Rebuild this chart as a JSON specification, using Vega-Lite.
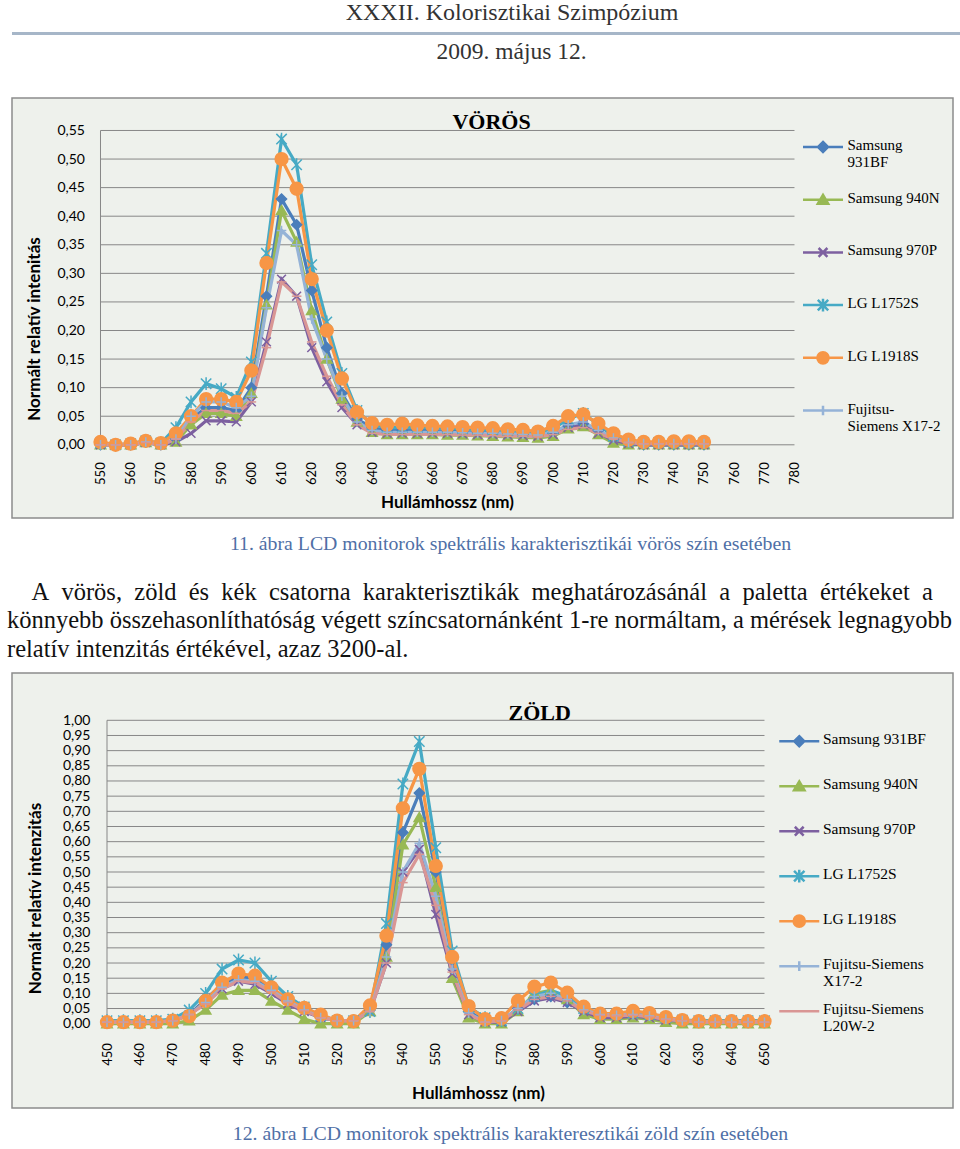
{
"$schema":"https://vega.github.io/schema/vega-lite/v6.json",
"background":"white",
"padding":{"left":6,"top":0,"right":0,"bottom":0},
"spacing":0,
"config":{"font":"Liberation Serif","view":{"stroke":null},"title":{"font":"Liberation Serif","fontWeight":"normal","color":"#222222"},
  "axis":{"labelOverlap":false,"labelFlush":false,"grid":false,"ticks":false,"domain":false}},
"datasets":{
"voros":[
{"wl":550,"Samsung 931BF":0,"Samsung 940N":0,"Samsung 970P":0,"LG L1752S":0.003,"LG L1918S":0.005,"Fujitsu-Siemens X17-2":0,"Fujitsu-Siemens L20W-2":0},
{"wl":555,"Samsung 931BF":0,"Samsung 940N":0,"Samsung 970P":0,"LG L1752S":0,"LG L1918S":0,"Fujitsu-Siemens X17-2":0,"Fujitsu-Siemens L20W-2":0},
{"wl":560,"Samsung 931BF":0,"Samsung 940N":0,"Samsung 970P":0,"LG L1752S":0.002,"LG L1918S":0.002,"Fujitsu-Siemens X17-2":0,"Fujitsu-Siemens L20W-2":0},
{"wl":565,"Samsung 931BF":0.005,"Samsung 940N":0.004,"Samsung 970P":0.004,"LG L1752S":0.007,"LG L1918S":0.007,"Fujitsu-Siemens X17-2":0.005,"Fujitsu-Siemens L20W-2":0.004},
{"wl":570,"Samsung 931BF":0,"Samsung 940N":0,"Samsung 970P":0,"LG L1752S":0.003,"LG L1918S":0.003,"Fujitsu-Siemens X17-2":0,"Fujitsu-Siemens L20W-2":0},
{"wl":575,"Samsung 931BF":0.01,"Samsung 940N":0.005,"Samsung 970P":0.005,"LG L1752S":0.03,"LG L1918S":0.02,"Fujitsu-Siemens X17-2":0.01,"Fujitsu-Siemens L20W-2":0.01},
{"wl":580,"Samsung 931BF":0.045,"Samsung 940N":0.035,"Samsung 970P":0.02,"LG L1752S":0.075,"LG L1918S":0.05,"Fujitsu-Siemens X17-2":0.05,"Fujitsu-Siemens L20W-2":0.04},
{"wl":585,"Samsung 931BF":0.065,"Samsung 940N":0.055,"Samsung 970P":0.042,"LG L1752S":0.107,"LG L1918S":0.08,"Fujitsu-Siemens X17-2":0.075,"Fujitsu-Siemens L20W-2":0.06},
{"wl":590,"Samsung 931BF":0.065,"Samsung 940N":0.055,"Samsung 970P":0.042,"LG L1752S":0.098,"LG L1918S":0.08,"Fujitsu-Siemens X17-2":0.075,"Fujitsu-Siemens L20W-2":0.06},
{"wl":595,"Samsung 931BF":0.06,"Samsung 940N":0.05,"Samsung 970P":0.04,"LG L1752S":0.083,"LG L1918S":0.075,"Fujitsu-Siemens X17-2":0.065,"Fujitsu-Siemens L20W-2":0.055},
{"wl":600,"Samsung 931BF":0.1,"Samsung 940N":0.09,"Samsung 970P":0.075,"LG L1752S":0.145,"LG L1918S":0.13,"Fujitsu-Siemens X17-2":0.085,"Fujitsu-Siemens L20W-2":0.075},
{"wl":605,"Samsung 931BF":0.26,"Samsung 940N":0.245,"Samsung 970P":0.18,"LG L1752S":0.335,"LG L1918S":0.318,"Fujitsu-Siemens X17-2":0.24,"Fujitsu-Siemens L20W-2":0.17},
{"wl":610,"Samsung 931BF":0.43,"Samsung 940N":0.41,"Samsung 970P":0.29,"LG L1752S":0.535,"LG L1918S":0.5,"Fujitsu-Siemens X17-2":0.375,"Fujitsu-Siemens L20W-2":0.285},
{"wl":615,"Samsung 931BF":0.385,"Samsung 940N":0.355,"Samsung 970P":0.26,"LG L1752S":0.49,"LG L1918S":0.448,"Fujitsu-Siemens X17-2":0.35,"Fujitsu-Siemens L20W-2":0.26},
{"wl":620,"Samsung 931BF":0.27,"Samsung 940N":0.235,"Samsung 970P":0.17,"LG L1752S":0.315,"LG L1918S":0.29,"Fujitsu-Siemens X17-2":0.22,"Fujitsu-Siemens L20W-2":0.18},
{"wl":625,"Samsung 931BF":0.17,"Samsung 940N":0.15,"Samsung 970P":0.11,"LG L1752S":0.215,"LG L1918S":0.2,"Fujitsu-Siemens X17-2":0.15,"Fujitsu-Siemens L20W-2":0.12},
{"wl":630,"Samsung 931BF":0.09,"Samsung 940N":0.08,"Samsung 970P":0.065,"LG L1752S":0.125,"LG L1918S":0.116,"Fujitsu-Siemens X17-2":0.085,"Fujitsu-Siemens L20W-2":0.07},
{"wl":635,"Samsung 931BF":0.045,"Samsung 940N":0.04,"Samsung 970P":0.035,"LG L1752S":0.06,"LG L1918S":0.057,"Fujitsu-Siemens X17-2":0.04,"Fujitsu-Siemens L20W-2":0.035},
{"wl":640,"Samsung 931BF":0.03,"Samsung 940N":0.022,"Samsung 970P":0.022,"LG L1752S":0.035,"LG L1918S":0.038,"Fujitsu-Siemens X17-2":0.025,"Fujitsu-Siemens L20W-2":0.02},
{"wl":645,"Samsung 931BF":0.025,"Samsung 940N":0.018,"Samsung 970P":0.02,"LG L1752S":0.03,"LG L1918S":0.035,"Fujitsu-Siemens X17-2":0.022,"Fujitsu-Siemens L20W-2":0.018},
{"wl":650,"Samsung 931BF":0.025,"Samsung 940N":0.018,"Samsung 970P":0.02,"LG L1752S":0.03,"LG L1918S":0.037,"Fujitsu-Siemens X17-2":0.022,"Fujitsu-Siemens L20W-2":0.018},
{"wl":655,"Samsung 931BF":0.025,"Samsung 940N":0.018,"Samsung 970P":0.02,"LG L1752S":0.03,"LG L1918S":0.034,"Fujitsu-Siemens X17-2":0.022,"Fujitsu-Siemens L20W-2":0.018},
{"wl":660,"Samsung 931BF":0.025,"Samsung 940N":0.018,"Samsung 970P":0.02,"LG L1752S":0.03,"LG L1918S":0.033,"Fujitsu-Siemens X17-2":0.022,"Fujitsu-Siemens L20W-2":0.018},
{"wl":665,"Samsung 931BF":0.024,"Samsung 940N":0.017,"Samsung 970P":0.02,"LG L1752S":0.029,"LG L1918S":0.032,"Fujitsu-Siemens X17-2":0.022,"Fujitsu-Siemens L20W-2":0.018},
{"wl":670,"Samsung 931BF":0.023,"Samsung 940N":0.017,"Samsung 970P":0.019,"LG L1752S":0.028,"LG L1918S":0.031,"Fujitsu-Siemens X17-2":0.021,"Fujitsu-Siemens L20W-2":0.017},
{"wl":675,"Samsung 931BF":0.022,"Samsung 940N":0.016,"Samsung 970P":0.018,"LG L1752S":0.027,"LG L1918S":0.03,"Fujitsu-Siemens X17-2":0.02,"Fujitsu-Siemens L20W-2":0.017},
{"wl":680,"Samsung 931BF":0.021,"Samsung 940N":0.015,"Samsung 970P":0.018,"LG L1752S":0.026,"LG L1918S":0.029,"Fujitsu-Siemens X17-2":0.02,"Fujitsu-Siemens L20W-2":0.016},
{"wl":685,"Samsung 931BF":0.02,"Samsung 940N":0.014,"Samsung 970P":0.017,"LG L1752S":0.025,"LG L1918S":0.027,"Fujitsu-Siemens X17-2":0.019,"Fujitsu-Siemens L20W-2":0.015},
{"wl":690,"Samsung 931BF":0.018,"Samsung 940N":0.013,"Samsung 970P":0.016,"LG L1752S":0.023,"LG L1918S":0.026,"Fujitsu-Siemens X17-2":0.018,"Fujitsu-Siemens L20W-2":0.015},
{"wl":695,"Samsung 931BF":0.017,"Samsung 940N":0.012,"Samsung 970P":0.015,"LG L1752S":0.022,"LG L1918S":0.023,"Fujitsu-Siemens X17-2":0.017,"Fujitsu-Siemens L20W-2":0.014},
{"wl":700,"Samsung 931BF":0.02,"Samsung 940N":0.015,"Samsung 970P":0.018,"LG L1752S":0.028,"LG L1918S":0.033,"Fujitsu-Siemens X17-2":0.022,"Fujitsu-Siemens L20W-2":0.018},
{"wl":705,"Samsung 931BF":0.033,"Samsung 940N":0.028,"Samsung 970P":0.03,"LG L1752S":0.045,"LG L1918S":0.05,"Fujitsu-Siemens X17-2":0.035,"Fujitsu-Siemens L20W-2":0.027},
{"wl":710,"Samsung 931BF":0.037,"Samsung 940N":0.032,"Samsung 970P":0.035,"LG L1752S":0.055,"LG L1918S":0.053,"Fujitsu-Siemens X17-2":0.04,"Fujitsu-Siemens L20W-2":0.03},
{"wl":715,"Samsung 931BF":0.025,"Samsung 940N":0.018,"Samsung 970P":0.02,"LG L1752S":0.035,"LG L1918S":0.037,"Fujitsu-Siemens X17-2":0.025,"Fujitsu-Siemens L20W-2":0.02},
{"wl":720,"Samsung 931BF":0.01,"Samsung 940N":0.003,"Samsung 970P":0.008,"LG L1752S":0.015,"LG L1918S":0.02,"Fujitsu-Siemens X17-2":0.012,"Fujitsu-Siemens L20W-2":0.01},
{"wl":725,"Samsung 931BF":0.003,"Samsung 940N":0,"Samsung 970P":0.002,"LG L1752S":0.006,"LG L1918S":0.009,"Fujitsu-Siemens X17-2":0.004,"Fujitsu-Siemens L20W-2":0.004},
{"wl":730,"Samsung 931BF":0,"Samsung 940N":0,"Samsung 970P":0,"LG L1752S":0.004,"LG L1918S":0.005,"Fujitsu-Siemens X17-2":0.002,"Fujitsu-Siemens L20W-2":0.002},
{"wl":735,"Samsung 931BF":0,"Samsung 940N":0,"Samsung 970P":0,"LG L1752S":0.004,"LG L1918S":0.005,"Fujitsu-Siemens X17-2":0.002,"Fujitsu-Siemens L20W-2":0.002},
{"wl":740,"Samsung 931BF":0,"Samsung 940N":0,"Samsung 970P":0,"LG L1752S":0.004,"LG L1918S":0.006,"Fujitsu-Siemens X17-2":0.002,"Fujitsu-Siemens L20W-2":0.002},
{"wl":745,"Samsung 931BF":0,"Samsung 940N":0,"Samsung 970P":0,"LG L1752S":0.004,"LG L1918S":0.006,"Fujitsu-Siemens X17-2":0.002,"Fujitsu-Siemens L20W-2":0.002},
{"wl":750,"Samsung 931BF":0,"Samsung 940N":0,"Samsung 970P":0,"LG L1752S":0.004,"LG L1918S":0.005,"Fujitsu-Siemens X17-2":0.002,"Fujitsu-Siemens L20W-2":0.002}
],
"zold":[
{"wl":450,"Samsung 931BF":0.005,"Samsung 940N":0,"Samsung 970P":0.005,"LG L1752S":0.01,"LG L1918S":0.005,"Fujitsu-Siemens X17-2":0.005,"Fujitsu-Siemens L20W-2":0.005},
{"wl":455,"Samsung 931BF":0.005,"Samsung 940N":0,"Samsung 970P":0.005,"LG L1752S":0.01,"LG L1918S":0.005,"Fujitsu-Siemens X17-2":0.005,"Fujitsu-Siemens L20W-2":0.005},
{"wl":460,"Samsung 931BF":0.005,"Samsung 940N":0,"Samsung 970P":0.005,"LG L1752S":0.01,"LG L1918S":0.005,"Fujitsu-Siemens X17-2":0.005,"Fujitsu-Siemens L20W-2":0.005},
{"wl":465,"Samsung 931BF":0.005,"Samsung 940N":0,"Samsung 970P":0.005,"LG L1752S":0.01,"LG L1918S":0.005,"Fujitsu-Siemens X17-2":0.005,"Fujitsu-Siemens L20W-2":0.005},
{"wl":470,"Samsung 931BF":0.01,"Samsung 940N":0,"Samsung 970P":0.01,"LG L1752S":0.015,"LG L1918S":0.01,"Fujitsu-Siemens X17-2":0.01,"Fujitsu-Siemens L20W-2":0.01},
{"wl":475,"Samsung 931BF":0.03,"Samsung 940N":0.01,"Samsung 970P":0.03,"LG L1752S":0.045,"LG L1918S":0.025,"Fujitsu-Siemens X17-2":0.03,"Fujitsu-Siemens L20W-2":0.03},
{"wl":480,"Samsung 931BF":0.08,"Samsung 940N":0.045,"Samsung 970P":0.07,"LG L1752S":0.1,"LG L1918S":0.075,"Fujitsu-Siemens X17-2":0.07,"Fujitsu-Siemens L20W-2":0.065},
{"wl":485,"Samsung 931BF":0.13,"Samsung 940N":0.095,"Samsung 970P":0.115,"LG L1752S":0.18,"LG L1918S":0.135,"Fujitsu-Siemens X17-2":0.12,"Fujitsu-Siemens L20W-2":0.115},
{"wl":490,"Samsung 931BF":0.155,"Samsung 940N":0.11,"Samsung 970P":0.14,"LG L1752S":0.21,"LG L1918S":0.165,"Fujitsu-Siemens X17-2":0.145,"Fujitsu-Siemens L20W-2":0.14},
{"wl":495,"Samsung 931BF":0.15,"Samsung 940N":0.11,"Samsung 970P":0.13,"LG L1752S":0.2,"LG L1918S":0.158,"Fujitsu-Siemens X17-2":0.14,"Fujitsu-Siemens L20W-2":0.135},
{"wl":500,"Samsung 931BF":0.115,"Samsung 940N":0.075,"Samsung 970P":0.1,"LG L1752S":0.14,"LG L1918S":0.12,"Fujitsu-Siemens X17-2":0.11,"Fujitsu-Siemens L20W-2":0.105},
{"wl":505,"Samsung 931BF":0.075,"Samsung 940N":0.045,"Samsung 970P":0.065,"LG L1752S":0.09,"LG L1918S":0.08,"Fujitsu-Siemens X17-2":0.075,"Fujitsu-Siemens L20W-2":0.07},
{"wl":510,"Samsung 931BF":0.045,"Samsung 940N":0.015,"Samsung 970P":0.04,"LG L1752S":0.055,"LG L1918S":0.052,"Fujitsu-Siemens X17-2":0.045,"Fujitsu-Siemens L20W-2":0.043},
{"wl":515,"Samsung 931BF":0.02,"Samsung 940N":0,"Samsung 970P":0.02,"LG L1752S":0.025,"LG L1918S":0.03,"Fujitsu-Siemens X17-2":0.02,"Fujitsu-Siemens L20W-2":0.02},
{"wl":520,"Samsung 931BF":0.01,"Samsung 940N":0,"Samsung 970P":0.01,"LG L1752S":0.01,"LG L1918S":0.01,"Fujitsu-Siemens X17-2":0.01,"Fujitsu-Siemens L20W-2":0.01},
{"wl":525,"Samsung 931BF":0.01,"Samsung 940N":0,"Samsung 970P":0.01,"LG L1752S":0.01,"LG L1918S":0.008,"Fujitsu-Siemens X17-2":0.01,"Fujitsu-Siemens L20W-2":0.01},
{"wl":530,"Samsung 931BF":0.045,"Samsung 940N":0.04,"Samsung 970P":0.04,"LG L1752S":0.04,"LG L1918S":0.06,"Fujitsu-Siemens X17-2":0.04,"Fujitsu-Siemens L20W-2":0.04},
{"wl":535,"Samsung 931BF":0.26,"Samsung 940N":0.22,"Samsung 970P":0.2,"LG L1752S":0.33,"LG L1918S":0.29,"Fujitsu-Siemens X17-2":0.22,"Fujitsu-Siemens L20W-2":0.2},
{"wl":540,"Samsung 931BF":0.63,"Samsung 940N":0.59,"Samsung 970P":0.5,"LG L1752S":0.79,"LG L1918S":0.71,"Fujitsu-Siemens X17-2":0.5,"Fujitsu-Siemens L20W-2":0.465},
{"wl":545,"Samsung 931BF":0.76,"Samsung 940N":0.68,"Samsung 970P":0.575,"LG L1752S":0.93,"LG L1918S":0.84,"Fujitsu-Siemens X17-2":0.595,"Fujitsu-Siemens L20W-2":0.558},
{"wl":550,"Samsung 931BF":0.5,"Samsung 940N":0.45,"Samsung 970P":0.36,"LG L1752S":0.58,"LG L1918S":0.52,"Fujitsu-Siemens X17-2":0.42,"Fujitsu-Siemens L20W-2":0.39},
{"wl":555,"Samsung 931BF":0.21,"Samsung 940N":0.15,"Samsung 970P":0.165,"LG L1752S":0.24,"LG L1918S":0.22,"Fujitsu-Siemens X17-2":0.18,"Fujitsu-Siemens L20W-2":0.17},
{"wl":560,"Samsung 931BF":0.04,"Samsung 940N":0.02,"Samsung 970P":0.03,"LG L1752S":0.055,"LG L1918S":0.058,"Fujitsu-Siemens X17-2":0.035,"Fujitsu-Siemens L20W-2":0.03},
{"wl":565,"Samsung 931BF":0.01,"Samsung 940N":0,"Samsung 970P":0.005,"LG L1752S":0.02,"LG L1918S":0.015,"Fujitsu-Siemens X17-2":0.005,"Fujitsu-Siemens L20W-2":0.005},
{"wl":570,"Samsung 931BF":0.01,"Samsung 940N":0,"Samsung 970P":0.005,"LG L1752S":0.01,"LG L1918S":0.018,"Fujitsu-Siemens X17-2":0.01,"Fujitsu-Siemens L20W-2":0.01},
{"wl":575,"Samsung 931BF":0.05,"Samsung 940N":0.04,"Samsung 970P":0.04,"LG L1752S":0.05,"LG L1918S":0.075,"Fujitsu-Siemens X17-2":0.05,"Fujitsu-Siemens L20W-2":0.045},
{"wl":580,"Samsung 931BF":0.08,"Samsung 940N":0.1,"Samsung 970P":0.075,"LG L1752S":0.09,"LG L1918S":0.122,"Fujitsu-Siemens X17-2":0.09,"Fujitsu-Siemens L20W-2":0.08},
{"wl":585,"Samsung 931BF":0.09,"Samsung 940N":0.11,"Samsung 970P":0.085,"LG L1752S":0.11,"LG L1918S":0.135,"Fujitsu-Siemens X17-2":0.1,"Fujitsu-Siemens L20W-2":0.09},
{"wl":590,"Samsung 931BF":0.07,"Samsung 940N":0.08,"Samsung 970P":0.07,"LG L1752S":0.09,"LG L1918S":0.102,"Fujitsu-Siemens X17-2":0.08,"Fujitsu-Siemens L20W-2":0.075},
{"wl":595,"Samsung 931BF":0.04,"Samsung 940N":0.03,"Samsung 970P":0.04,"LG L1752S":0.05,"LG L1918S":0.056,"Fujitsu-Siemens X17-2":0.045,"Fujitsu-Siemens L20W-2":0.042},
{"wl":600,"Samsung 931BF":0.025,"Samsung 940N":0.015,"Samsung 970P":0.02,"LG L1752S":0.03,"LG L1918S":0.033,"Fujitsu-Siemens X17-2":0.03,"Fujitsu-Siemens L20W-2":0.028},
{"wl":605,"Samsung 931BF":0.025,"Samsung 940N":0.015,"Samsung 970P":0.02,"LG L1752S":0.03,"LG L1918S":0.033,"Fujitsu-Siemens X17-2":0.028,"Fujitsu-Siemens L20W-2":0.026},
{"wl":610,"Samsung 931BF":0.03,"Samsung 940N":0.02,"Samsung 970P":0.025,"LG L1752S":0.035,"LG L1918S":0.042,"Fujitsu-Siemens X17-2":0.03,"Fujitsu-Siemens L20W-2":0.028},
{"wl":615,"Samsung 931BF":0.025,"Samsung 940N":0.015,"Samsung 970P":0.02,"LG L1752S":0.03,"LG L1918S":0.035,"Fujitsu-Siemens X17-2":0.025,"Fujitsu-Siemens L20W-2":0.023},
{"wl":620,"Samsung 931BF":0.015,"Samsung 940N":0.005,"Samsung 970P":0.012,"LG L1752S":0.02,"LG L1918S":0.022,"Fujitsu-Siemens X17-2":0.015,"Fujitsu-Siemens L20W-2":0.014},
{"wl":625,"Samsung 931BF":0.01,"Samsung 940N":0,"Samsung 970P":0.008,"LG L1752S":0.012,"LG L1918S":0.012,"Fujitsu-Siemens X17-2":0.01,"Fujitsu-Siemens L20W-2":0.01},
{"wl":630,"Samsung 931BF":0.005,"Samsung 940N":0,"Samsung 970P":0.005,"LG L1752S":0.01,"LG L1918S":0.008,"Fujitsu-Siemens X17-2":0.005,"Fujitsu-Siemens L20W-2":0.005},
{"wl":635,"Samsung 931BF":0.005,"Samsung 940N":0,"Samsung 970P":0.005,"LG L1752S":0.01,"LG L1918S":0.008,"Fujitsu-Siemens X17-2":0.005,"Fujitsu-Siemens L20W-2":0.005},
{"wl":640,"Samsung 931BF":0.005,"Samsung 940N":0,"Samsung 970P":0.005,"LG L1752S":0.01,"LG L1918S":0.008,"Fujitsu-Siemens X17-2":0.005,"Fujitsu-Siemens L20W-2":0.005},
{"wl":645,"Samsung 931BF":0.005,"Samsung 940N":0,"Samsung 970P":0.005,"LG L1752S":0.01,"LG L1918S":0.008,"Fujitsu-Siemens X17-2":0.005,"Fujitsu-Siemens L20W-2":0.005},
{"wl":650,"Samsung 931BF":0.005,"Samsung 940N":0,"Samsung 970P":0.005,"LG L1752S":0.01,"LG L1918S":0.008,"Fujitsu-Siemens X17-2":0.005,"Fujitsu-Siemens L20W-2":0.005}
]
},
"vconcat":[
{"width":950,"height":3,"view":{"fill":"#A6B6C8","stroke":null},
 "title":{"text":"XXXII. Kolorisztikai Szimpózium","font":"Liberation Serif","fontSize":24,"color":"#333333","anchor":"middle","frame":"group","dx":25,"offset":3},
 "data":{"values":[{}]},"mark":{"type":"text","text":""}},
{"width":941,"height":26,"view":{"stroke":null},
 "title":{"text":"2009. május 12.","font":"Liberation Serif","fontSize":23.5,"color":"#333333","anchor":"middle","frame":"group","dx":29,"offset":8},
 "data":{"values":[{}]},"mark":{"type":"text","text":""}},
{"width":941,"height":420,
 "view":{"fill":"#EEF1EC","stroke":"#8C8C8C","strokeWidth":1.5},
 "title":{"text":"11. ábra LCD monitorok spektrális karakterisztikái vörös szín esetében","orient":"bottom","font":"Liberation Serif","fontSize":19.8,"color":"#4F6FA6","anchor":"middle","frame":"group","dx":28,"offset":16},
 "resolve":{"scale":{"fill":"independent","stroke":"independent","shape":"independent"}},
 "layer":[
  {"data":{"values":[{"g":0},{"g":0.05},{"g":0.1},{"g":0.15},{"g":0.2},{"g":0.25},{"g":0.3},{"g":0.35},{"g":0.4},{"g":0.45},{"g":0.5},{"g":0.55}]},
   "mark":{"type":"rule","color":"#878787","strokeWidth":1},
   "encoding":{
    "y":{"field":"g","type":"quantitative","scale":{"domain":[-0.12808,0.60682],"nice":false,"zero":false},
      "axis":{"values":[0,0.05,0.1,0.15,0.2,0.25,0.3,0.35,0.4,0.45,0.5,0.55],"orient":"left","offset":-88.5,"domain":false,"ticks":false,"grid":false,"labelPadding":16,"labelFont":"Lato","labelFontSize":14,"labelColor":"#000000","labelOverlap":false,"labelFlush":false,"labelExpr":"replace(format(datum.value,'.2f'),'.',',')",
        "title":"Normált relatív intenitás","titleFont":"Lato","titleFontSize":17,"titleFontWeight":"bold","titleColor":"#000000","titleX":-66,"titleY":230.5,"titleAngle":-90,"titleBaseline":"middle","titleAlign":"center"}},
    "x":{"datum":550,"type":"quantitative","scale":{"domain":[520.67,832.53],"nice":false,"zero":false},
      "axis":{"values":[550,560,570,580,590,600,610,620,630,640,650,660,670,680,690,700,710,720,730,740,750,760,770,780],"orient":"bottom","offset":-73.2,"domain":false,"ticks":false,"grid":false,"labelAngle":-90,"labelPadding":17,"labelFont":"Lato","labelFontSize":13,"labelColor":"#000000","labelOverlap":false,"labelFlush":false,
        "title":"Hullámhossz (nm)","titleFont":"Lato","titleFontSize":17,"titleFontWeight":"bold","titleColor":"#000000","titleX":435,"titleY":58,"titleBaseline":"middle","titleAlign":"center"}},
    "x2":{"datum":780}}},
  {"data":{"values":[{}]},
   "mark":{"type":"rule","color":"#878787","strokeWidth":1},
   "encoding":{
    "x":{"datum":550,"type":"quantitative","scale":{"domain":[520.67,832.53],"nice":false,"zero":false},
      "axis":{"values":[550,560,570,580,590,600,610,620,630,640,650,660,670,680,690,700,710,720,730,740,750,760,770,780],"orient":"bottom","offset":-73.2,"domain":false,"ticks":false,"grid":false,"labelAngle":-90,"labelPadding":17,"labelFont":"Lato","labelFontSize":13,"labelColor":"#000000","labelOverlap":false,"labelFlush":false,
        "title":"Hullámhossz (nm)","titleFont":"Lato","titleFontSize":17,"titleFontWeight":"bold","titleColor":"#000000","titleX":435,"titleY":58,"titleBaseline":"middle","titleAlign":"center"}},
    "y":{"datum":0,"type":"quantitative","scale":{"domain":[-0.12808,0.60682],"nice":false,"zero":false},
      "axis":{"values":[0,0.05,0.1,0.15,0.2,0.25,0.3,0.35,0.4,0.45,0.5,0.55],"orient":"left","offset":-88.5,"domain":false,"ticks":false,"grid":false,"labelPadding":16,"labelFont":"Lato","labelFontSize":14,"labelColor":"#000000","labelOverlap":false,"labelFlush":false,"labelExpr":"replace(format(datum.value,'.2f'),'.',',')",
        "title":"Normált relatív intenitás","titleFont":"Lato","titleFontSize":17,"titleFontWeight":"bold","titleColor":"#000000","titleX":-66,"titleY":230.5,"titleAngle":-90,"titleBaseline":"middle","titleAlign":"center"}},
    "y2":{"datum":0.55}}},
  {"data":{"name":"voros"},
   "transform":[{"fold":["Samsung 931BF","Samsung 940N","Samsung 970P","LG L1752S","LG L1918S","Fujitsu-Siemens X17-2","Fujitsu-Siemens L20W-2"],"as":["series","v"]}],
   "mark":{"type":"line","strokeWidth":3.2},
   "encoding":{
    "x":{"field":"wl","type":"quantitative","scale":{"domain":[520.67,832.53],"nice":false,"zero":false},
      "axis":{"values":[550,560,570,580,590,600,610,620,630,640,650,660,670,680,690,700,710,720,730,740,750,760,770,780],"orient":"bottom","offset":-73.2,"domain":false,"ticks":false,"grid":false,"labelAngle":-90,"labelPadding":17,"labelFont":"Lato","labelFontSize":13,"labelColor":"#000000","labelOverlap":false,"labelFlush":false,
        "title":"Hullámhossz (nm)","titleFont":"Lato","titleFontSize":17,"titleFontWeight":"bold","titleColor":"#000000","titleX":435,"titleY":58,"titleBaseline":"middle","titleAlign":"center"}},
    "y":{"field":"v","type":"quantitative","scale":{"domain":[-0.12808,0.60682],"nice":false,"zero":false},
      "axis":{"values":[0,0.05,0.1,0.15,0.2,0.25,0.3,0.35,0.4,0.45,0.5,0.55],"orient":"left","offset":-88.5,"domain":false,"ticks":false,"grid":false,"labelPadding":16,"labelFont":"Lato","labelFontSize":14,"labelColor":"#000000","labelOverlap":false,"labelFlush":false,"labelExpr":"replace(format(datum.value,'.2f'),'.',',')",
        "title":"Normált relatív intenitás","titleFont":"Lato","titleFontSize":17,"titleFontWeight":"bold","titleColor":"#000000","titleX":-66,"titleY":230.5,"titleAngle":-90,"titleBaseline":"middle","titleAlign":"center"}},
    "color":{"field":"series","type":"nominal",
      "scale":{"domain":["Samsung 931BF","Samsung 940N","Samsung 970P","LG L1752S","LG L1918S","Fujitsu-Siemens X17-2","Fujitsu-Siemens L20W-2"],"range":["#4A7EBB","#98B954","#7D60A0","#46AAC5","#F79646","#95B3D7","#D99694"]},
      "legend":{"orient":"none","legendX":803.5,"legendY":41.5,"title":null,"padding":0,
        "values":["Samsung 931BF","Samsung 940N","Samsung 970P","LG L1752S","LG L1918S","Fujitsu-Siemens X17-2"],
        "symbolSize":64,"symbolStrokeWidth":2.5,"labelFont":"Liberation Serif","labelFontSize":15,"labelColor":"#000000","labelOffset":17,"labelBaseline":"top","labelLimit":200,"rowPadding":17.7,"gridAlign":"all",
        "labelExpr":"datum.value == 'Samsung 931BF' ? ['Samsung','931BF'] : datum.value == 'Fujitsu-Siemens X17-2' ? ['Fujitsu-','Siemens X17-2'] : [datum.label,'']",
        "encode":{
          "symbols":{"update":{
            "shape":{"signal":"['M-5,0L5,0M0,-1.25L1.25,0L0,1.25L-1.25,0Z','M-5,0L5,0M0,-1.2L1.3,1L-1.3,1Z','M-5,0L5,0M-1.1,-1.1L1.1,1.1M1.1,-1.1L-1.1,1.1','M-5,0L5,0M-1.3,-1.3L1.3,1.3M1.3,-1.3L-1.3,1.3M0,-1.6L0,1.6','M-5,0L5,0M1.4,0A1.4,1.4,0,1,1,-1.4,0A1.4,1.4,0,1,1,1.4,0Z','M-5,0L5,0M0,-1.2L0,1.2','M-5,0L5,0'][indexof(['Samsung 931BF','Samsung 940N','Samsung 970P','LG L1752S','LG L1918S','Fujitsu-Siemens X17-2','Fujitsu-Siemens L20W-2'], datum.value)]"},
            "fill":{"signal":"['#4A7EBB','#98B954','#7D60A0','#46AAC5','#F79646','#95B3D7','#D99694'][indexof(['Samsung 931BF','Samsung 940N','Samsung 970P','LG L1752S','LG L1918S','Fujitsu-Siemens X17-2','Fujitsu-Siemens L20W-2'], datum.value)]"},
            "strokeWidth":{"value":2.5}}},
          "labels":{"update":{"dy":{"value":-9},"lineHeight":{"value":17}}}
        }}}
   }},
  {"data":{"name":"voros"},
   "transform":[{"fold":["Samsung 931BF","Samsung 940N","Samsung 970P","LG L1752S","LG L1918S","Fujitsu-Siemens X17-2","Fujitsu-Siemens L20W-2"],"as":["series","v"]}],
   "mark":{"type":"point","size":64,"strokeWidth":1.5,"opacity":1},
   "encoding":{
    "x":{"field":"wl","type":"quantitative","scale":{"domain":[520.67,832.53],"nice":false,"zero":false},
      "axis":{"values":[550,560,570,580,590,600,610,620,630,640,650,660,670,680,690,700,710,720,730,740,750,760,770,780],"orient":"bottom","offset":-73.2,"domain":false,"ticks":false,"grid":false,"labelAngle":-90,"labelPadding":17,"labelFont":"Lato","labelFontSize":13,"labelColor":"#000000","labelOverlap":false,"labelFlush":false,
        "title":"Hullámhossz (nm)","titleFont":"Lato","titleFontSize":17,"titleFontWeight":"bold","titleColor":"#000000","titleX":435,"titleY":58,"titleBaseline":"middle","titleAlign":"center"}},
    "y":{"field":"v","type":"quantitative","scale":{"domain":[-0.12808,0.60682],"nice":false,"zero":false},
      "axis":{"values":[0,0.05,0.1,0.15,0.2,0.25,0.3,0.35,0.4,0.45,0.5,0.55],"orient":"left","offset":-88.5,"domain":false,"ticks":false,"grid":false,"labelPadding":16,"labelFont":"Lato","labelFontSize":14,"labelColor":"#000000","labelOverlap":false,"labelFlush":false,"labelExpr":"replace(format(datum.value,'.2f'),'.',',')",
        "title":"Normált relatív intenitás","titleFont":"Lato","titleFontSize":17,"titleFontWeight":"bold","titleColor":"#000000","titleX":-66,"titleY":230.5,"titleAngle":-90,"titleBaseline":"middle","titleAlign":"center"}},
    "fill":{"field":"series","type":"nominal","legend":null,
      "scale":{"domain":["Samsung 931BF","Samsung 940N","Samsung 970P","LG L1752S","LG L1918S","Fujitsu-Siemens X17-2","Fujitsu-Siemens L20W-2"],"range":["#4A7EBB","#98B954","#7D60A0","#46AAC5","#F79646","#95B3D7","#D99694"]}},
    "stroke":{"field":"series","type":"nominal","legend":null,
      "scale":{"domain":["Samsung 931BF","Samsung 940N","Samsung 970P","LG L1752S","LG L1918S","Fujitsu-Siemens X17-2","Fujitsu-Siemens L20W-2"],"range":["#4A7EBB","#98B954","#7D60A0","#46AAC5","#F79646","#95B3D7","#D99694"]}},
    "shape":{"field":"series","type":"nominal","legend":null,
      "scale":{"domain":["Samsung 931BF","Samsung 940N","Samsung 970P","LG L1752S","LG L1918S","Fujitsu-Siemens X17-2","Fujitsu-Siemens L20W-2"],"range":["M0,-1.25L1.25,0L0,1.25L-1.25,0Z","M0,-1.2L1.3,1L-1.3,1Z","M-1.1,-1.1L1.1,1.1M1.1,-1.1L-1.1,1.1","M-1.3,-1.3L1.3,1.3M1.3,-1.3L-1.3,1.3M0,-1.6L0,1.6","M1.6,0A1.6,1.6,0,1,1,-1.6,0A1.6,1.6,0,1,1,1.6,0Z","M-1.2,0L1.2,0M0,-1.2L0,1.2","M-1.2,0L1.2,0"]}}
   }},
  {"data":{"values":[{}]},
   "mark":{"type":"text","text":"VÖRÖS","font":"Liberation Serif","fontSize":22,"fontWeight":"bold","color":"#000000","baseline":"middle","align":"center"},
   "encoding":{
    "x":{"datum":679.6,"type":"quantitative","scale":{"domain":[520.67,832.53],"nice":false,"zero":false},
      "axis":{"values":[550,560,570,580,590,600,610,620,630,640,650,660,670,680,690,700,710,720,730,740,750,760,770,780],"orient":"bottom","offset":-73.2,"domain":false,"ticks":false,"grid":false,"labelAngle":-90,"labelPadding":17,"labelFont":"Lato","labelFontSize":13,"labelColor":"#000000","labelOverlap":false,"labelFlush":false,
        "title":"Hullámhossz (nm)","titleFont":"Lato","titleFontSize":17,"titleFontWeight":"bold","titleColor":"#000000","titleX":435,"titleY":58,"titleBaseline":"middle","titleAlign":"center"}},
    "y":{"datum":0.5645,"type":"quantitative","scale":{"domain":[-0.12808,0.60682],"nice":false,"zero":false},
      "axis":{"values":[0,0.05,0.1,0.15,0.2,0.25,0.3,0.35,0.4,0.45,0.5,0.55],"orient":"left","offset":-88.5,"domain":false,"ticks":false,"grid":false,"labelPadding":16,"labelFont":"Lato","labelFontSize":14,"labelColor":"#000000","labelOverlap":false,"labelFlush":false,"labelExpr":"replace(format(datum.value,'.2f'),'.',',')",
        "title":"Normált relatív intenitás","titleFont":"Lato","titleFontSize":17,"titleFontWeight":"bold","titleColor":"#000000","titleX":-66,"titleY":230.5,"titleAngle":-90,"titleBaseline":"middle","titleAlign":"center"}}}}
 ]},
{"width":941,"height":22.5,"view":{"stroke":null},"data":{"values":[{}]},"mark":{"type":"text","text":""}},
{"width":941,"height":435,
 "view":{"fill":"#EEF1EC","stroke":"#8C8C8C","strokeWidth":1.5},
 "title":{"text":["\u200b\u2002\u2002A\u2002vörös,\u2002zöld\u2002és\u2002kék\u2002csatorna\u2002karakterisztikák\u2002meghatározásánál\u2002a\u2002paletta\u2002értékeket\u2002a","könnyebb összehasonlíthatóság végett színcsatornánként 1-re normáltam, a mérések legnagyobb","relatív intenzitás értékével, azaz 3200-al."],"orient":"top","font":"Liberation Serif","fontSize":24.5,"lineHeight":28.5,"color":"#111111","anchor":"start","align":"left","frame":"group","dx":-5,"offset":11},
 "resolve":{"scale":{"fill":"independent","stroke":"independent","shape":"independent"}},
 "layer":[
  {"data":{"values":[{"g":0},{"g":0.05},{"g":0.1},{"g":0.15},{"g":0.2},{"g":0.25},{"g":0.3},{"g":0.35},{"g":0.4},{"g":0.45},{"g":0.5},{"g":0.55},{"g":0.6},{"g":0.65},{"g":0.7},{"g":0.75},{"g":0.8},{"g":0.85},{"g":0.9},{"g":0.95},{"g":1}]},
   "mark":{"type":"rule","color":"#878787","strokeWidth":1},
   "encoding":{
    "y":{"field":"g","type":"quantitative","scale":{"domain":[-0.27785,1.1559],"nice":false,"zero":false},
      "axis":{"values":[0,0.05,0.1,0.15,0.2,0.25,0.3,0.35,0.4,0.45,0.5,0.55,0.6,0.65,0.7,0.75,0.8,0.85,0.9,0.95,1],"orient":"left","offset":-95,"domain":false,"ticks":false,"grid":false,"labelPadding":17,"labelFont":"Lato","labelFontSize":14,"labelColor":"#000000","labelOverlap":false,"labelFlush":false,"labelExpr":"replace(format(datum.value,'.2f'),'.',',')",
        "title":"Normált relatív intenzitás","titleFont":"Lato","titleFontSize":17,"titleFontWeight":"bold","titleColor":"#000000","titleX":-72,"titleY":225,"titleAngle":-90,"titleBaseline":"middle","titleAlign":"center"}},
    "x":{"datum":450,"type":"quantitative","scale":{"domain":[421.1,707.34],"nice":false,"zero":false},
      "axis":{"values":[450,460,470,480,490,500,510,520,530,540,550,560,570,580,590,600,610,620,630,640,650],"orient":"bottom","offset":-84.3,"domain":false,"ticks":false,"grid":false,"labelAngle":-90,"labelPadding":19,"labelFont":"Lato","labelFontSize":13,"labelColor":"#000000","labelOverlap":false,"labelFlush":false,
        "title":"Hullámhossz (nm)","titleFont":"Lato","titleFontSize":17,"titleFontWeight":"bold","titleColor":"#000000","titleX":466,"titleY":70,"titleBaseline":"middle","titleAlign":"center"}},
    "x2":{"datum":650}}},
  {"data":{"values":[{}]},
   "mark":{"type":"rule","color":"#878787","strokeWidth":1},
   "encoding":{
    "x":{"datum":450,"type":"quantitative","scale":{"domain":[421.1,707.34],"nice":false,"zero":false},
      "axis":{"values":[450,460,470,480,490,500,510,520,530,540,550,560,570,580,590,600,610,620,630,640,650],"orient":"bottom","offset":-84.3,"domain":false,"ticks":false,"grid":false,"labelAngle":-90,"labelPadding":19,"labelFont":"Lato","labelFontSize":13,"labelColor":"#000000","labelOverlap":false,"labelFlush":false,
        "title":"Hullámhossz (nm)","titleFont":"Lato","titleFontSize":17,"titleFontWeight":"bold","titleColor":"#000000","titleX":466,"titleY":70,"titleBaseline":"middle","titleAlign":"center"}},
    "y":{"datum":0,"type":"quantitative","scale":{"domain":[-0.27785,1.1559],"nice":false,"zero":false},
      "axis":{"values":[0,0.05,0.1,0.15,0.2,0.25,0.3,0.35,0.4,0.45,0.5,0.55,0.6,0.65,0.7,0.75,0.8,0.85,0.9,0.95,1],"orient":"left","offset":-95,"domain":false,"ticks":false,"grid":false,"labelPadding":17,"labelFont":"Lato","labelFontSize":14,"labelColor":"#000000","labelOverlap":false,"labelFlush":false,"labelExpr":"replace(format(datum.value,'.2f'),'.',',')",
        "title":"Normált relatív intenzitás","titleFont":"Lato","titleFontSize":17,"titleFontWeight":"bold","titleColor":"#000000","titleX":-72,"titleY":225,"titleAngle":-90,"titleBaseline":"middle","titleAlign":"center"}},
    "y2":{"datum":1}}},
  {"data":{"name":"zold"},
   "transform":[{"fold":["Samsung 931BF","Samsung 940N","Samsung 970P","LG L1752S","LG L1918S","Fujitsu-Siemens X17-2","Fujitsu-Siemens L20W-2"],"as":["series","v"]}],
   "mark":{"type":"line","strokeWidth":3.2},
   "encoding":{
    "x":{"field":"wl","type":"quantitative","scale":{"domain":[421.1,707.34],"nice":false,"zero":false},
      "axis":{"values":[450,460,470,480,490,500,510,520,530,540,550,560,570,580,590,600,610,620,630,640,650],"orient":"bottom","offset":-84.3,"domain":false,"ticks":false,"grid":false,"labelAngle":-90,"labelPadding":19,"labelFont":"Lato","labelFontSize":13,"labelColor":"#000000","labelOverlap":false,"labelFlush":false,
        "title":"Hullámhossz (nm)","titleFont":"Lato","titleFontSize":17,"titleFontWeight":"bold","titleColor":"#000000","titleX":466,"titleY":70,"titleBaseline":"middle","titleAlign":"center"}},
    "y":{"field":"v","type":"quantitative","scale":{"domain":[-0.27785,1.1559],"nice":false,"zero":false},
      "axis":{"values":[0,0.05,0.1,0.15,0.2,0.25,0.3,0.35,0.4,0.45,0.5,0.55,0.6,0.65,0.7,0.75,0.8,0.85,0.9,0.95,1],"orient":"left","offset":-95,"domain":false,"ticks":false,"grid":false,"labelPadding":17,"labelFont":"Lato","labelFontSize":14,"labelColor":"#000000","labelOverlap":false,"labelFlush":false,"labelExpr":"replace(format(datum.value,'.2f'),'.',',')",
        "title":"Normált relatív intenzitás","titleFont":"Lato","titleFontSize":17,"titleFontWeight":"bold","titleColor":"#000000","titleX":-72,"titleY":225,"titleAngle":-90,"titleBaseline":"middle","titleAlign":"center"}},
    "color":{"field":"series","type":"nominal",
      "scale":{"domain":["Samsung 931BF","Samsung 940N","Samsung 970P","LG L1752S","LG L1918S","Fujitsu-Siemens X17-2","Fujitsu-Siemens L20W-2"],"range":["#4A7EBB","#98B954","#7D60A0","#46AAC5","#F79646","#95B3D7","#D99694"]},
      "legend":{"orient":"none","legendX":779.5,"legendY":60.4,"title":null,"padding":0,
        "symbolSize":64,"symbolStrokeWidth":2.5,"labelFont":"Liberation Serif","labelFontSize":15.5,"labelColor":"#000000","labelOffset":16,"labelBaseline":"top","labelLimit":200,"rowPadding":9,"gridAlign":"all",
        "labelExpr":"datum.value == 'Fujitsu-Siemens X17-2' ? ['Fujitsu-Siemens','X17-2'] : datum.value == 'Fujitsu-Siemens L20W-2' ? ['Fujitsu-Siemens','L20W-2'] : [datum.label,'']",
        "encode":{
          "symbols":{"update":{
            "shape":{"signal":"['M-5,0L5,0M0,-1.25L1.25,0L0,1.25L-1.25,0Z','M-5,0L5,0M0,-1.2L1.3,1L-1.3,1Z','M-5,0L5,0M-1.1,-1.1L1.1,1.1M1.1,-1.1L-1.1,1.1','M-5,0L5,0M-1.3,-1.3L1.3,1.3M1.3,-1.3L-1.3,1.3M0,-1.6L0,1.6','M-5,0L5,0M1.4,0A1.4,1.4,0,1,1,-1.4,0A1.4,1.4,0,1,1,1.4,0Z','M-5,0L5,0M0,-1.2L0,1.2','M-5,0L5,0M-1.2,0L1.2,0'][indexof(['Samsung 931BF','Samsung 940N','Samsung 970P','LG L1752S','LG L1918S','Fujitsu-Siemens X17-2','Fujitsu-Siemens L20W-2'], datum.value)]"},
            "fill":{"signal":"['#4A7EBB','#98B954','#7D60A0','#46AAC5','#F79646','#95B3D7','#D99694'][indexof(['Samsung 931BF','Samsung 940N','Samsung 970P','LG L1752S','LG L1918S','Fujitsu-Siemens X17-2','Fujitsu-Siemens L20W-2'], datum.value)]"},
            "strokeWidth":{"value":2.5}}},
          "labels":{"update":{"dy":{"value":-9},"lineHeight":{"value":17}}}
        }}}
   }},
  {"data":{"name":"zold"},
   "transform":[{"fold":["Samsung 931BF","Samsung 940N","Samsung 970P","LG L1752S","LG L1918S","Fujitsu-Siemens X17-2","Fujitsu-Siemens L20W-2"],"as":["series","v"]}],
   "mark":{"type":"point","size":64,"strokeWidth":1.5,"opacity":1},
   "encoding":{
    "x":{"field":"wl","type":"quantitative","scale":{"domain":[421.1,707.34],"nice":false,"zero":false},
      "axis":{"values":[450,460,470,480,490,500,510,520,530,540,550,560,570,580,590,600,610,620,630,640,650],"orient":"bottom","offset":-84.3,"domain":false,"ticks":false,"grid":false,"labelAngle":-90,"labelPadding":19,"labelFont":"Lato","labelFontSize":13,"labelColor":"#000000","labelOverlap":false,"labelFlush":false,
        "title":"Hullámhossz (nm)","titleFont":"Lato","titleFontSize":17,"titleFontWeight":"bold","titleColor":"#000000","titleX":466,"titleY":70,"titleBaseline":"middle","titleAlign":"center"}},
    "y":{"field":"v","type":"quantitative","scale":{"domain":[-0.27785,1.1559],"nice":false,"zero":false},
      "axis":{"values":[0,0.05,0.1,0.15,0.2,0.25,0.3,0.35,0.4,0.45,0.5,0.55,0.6,0.65,0.7,0.75,0.8,0.85,0.9,0.95,1],"orient":"left","offset":-95,"domain":false,"ticks":false,"grid":false,"labelPadding":17,"labelFont":"Lato","labelFontSize":14,"labelColor":"#000000","labelOverlap":false,"labelFlush":false,"labelExpr":"replace(format(datum.value,'.2f'),'.',',')",
        "title":"Normált relatív intenzitás","titleFont":"Lato","titleFontSize":17,"titleFontWeight":"bold","titleColor":"#000000","titleX":-72,"titleY":225,"titleAngle":-90,"titleBaseline":"middle","titleAlign":"center"}},
    "fill":{"field":"series","type":"nominal","legend":null,
      "scale":{"domain":["Samsung 931BF","Samsung 940N","Samsung 970P","LG L1752S","LG L1918S","Fujitsu-Siemens X17-2","Fujitsu-Siemens L20W-2"],"range":["#4A7EBB","#98B954","#7D60A0","#46AAC5","#F79646","#95B3D7","#D99694"]}},
    "stroke":{"field":"series","type":"nominal","legend":null,
      "scale":{"domain":["Samsung 931BF","Samsung 940N","Samsung 970P","LG L1752S","LG L1918S","Fujitsu-Siemens X17-2","Fujitsu-Siemens L20W-2"],"range":["#4A7EBB","#98B954","#7D60A0","#46AAC5","#F79646","#95B3D7","#D99694"]}},
    "shape":{"field":"series","type":"nominal","legend":null,
      "scale":{"domain":["Samsung 931BF","Samsung 940N","Samsung 970P","LG L1752S","LG L1918S","Fujitsu-Siemens X17-2","Fujitsu-Siemens L20W-2"],"range":["M0,-1.25L1.25,0L0,1.25L-1.25,0Z","M0,-1.2L1.3,1L-1.3,1Z","M-1.1,-1.1L1.1,1.1M1.1,-1.1L-1.1,1.1","M-1.3,-1.3L1.3,1.3M1.3,-1.3L-1.3,1.3M0,-1.6L0,1.6","M1.6,0A1.6,1.6,0,1,1,-1.6,0A1.6,1.6,0,1,1,1.6,0Z","M-1.2,0L1.2,0M0,-1.2L0,1.2","M-1.2,0L1.2,0"]}}
   }},
  {"data":{"values":[{}]},
   "mark":{"type":"text","text":"ZÖLD","font":"Liberation Serif","fontSize":22,"fontWeight":"bold","color":"#000000","baseline":"middle","align":"center"},
   "encoding":{
    "x":{"datum":581.6,"type":"quantitative","scale":{"domain":[421.1,707.34],"nice":false,"zero":false},
      "axis":{"values":[450,460,470,480,490,500,510,520,530,540,550,560,570,580,590,600,610,620,630,640,650],"orient":"bottom","offset":-84.3,"domain":false,"ticks":false,"grid":false,"labelAngle":-90,"labelPadding":19,"labelFont":"Lato","labelFontSize":13,"labelColor":"#000000","labelOverlap":false,"labelFlush":false,
        "title":"Hullámhossz (nm)","titleFont":"Lato","titleFontSize":17,"titleFontWeight":"bold","titleColor":"#000000","titleX":466,"titleY":70,"titleBaseline":"middle","titleAlign":"center"}},
    "y":{"datum":1.025,"type":"quantitative","scale":{"domain":[-0.27785,1.1559],"nice":false,"zero":false},
      "axis":{"values":[0,0.05,0.1,0.15,0.2,0.25,0.3,0.35,0.4,0.45,0.5,0.55,0.6,0.65,0.7,0.75,0.8,0.85,0.9,0.95,1],"orient":"left","offset":-95,"domain":false,"ticks":false,"grid":false,"labelPadding":17,"labelFont":"Lato","labelFontSize":14,"labelColor":"#000000","labelOverlap":false,"labelFlush":false,"labelExpr":"replace(format(datum.value,'.2f'),'.',',')",
        "title":"Normált relatív intenzitás","titleFont":"Lato","titleFontSize":17,"titleFontWeight":"bold","titleColor":"#000000","titleX":-72,"titleY":225,"titleAngle":-90,"titleBaseline":"middle","titleAlign":"center"}}}}
 ]},
{"width":941,"height":1,"view":{"stroke":null},
 "title":{"text":"12. ábra LCD monitorok spektrális karakteresztikái zöld szín esetében","orient":"bottom","font":"Liberation Serif","fontSize":19.8,"color":"#4F6FA6","anchor":"middle","frame":"group","dx":28,"offset":3},
 "data":{"values":[{}]},"mark":{"type":"text","text":""}}
],
"resolve":{"scale":{"x":"independent","y":"independent","color":"independent","fill":"independent","stroke":"independent","shape":"independent"},"legend":{"color":"independent"},"axis":{"x":"independent","y":"independent"}}
}
